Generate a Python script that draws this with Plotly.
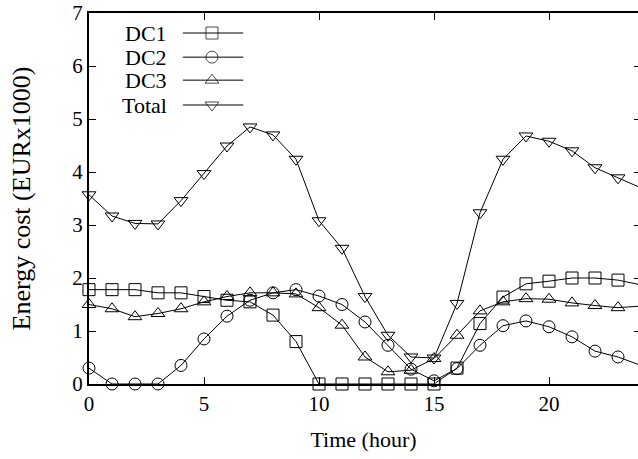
import plotly.graph_objects as go

hours = list(range(25))
dc1 = [1.78, 1.78, 1.78, 1.72, 1.72, 1.65, 1.58, 1.55, 1.30, 0.80, 0, 0, 0, 0, 0, 0,
       0.30, 1.14, 1.64, 1.89, 1.94, 2.00, 2.00, 1.96, 1.87]
dc2 = [0.30, 0, 0, 0, 0.35, 0.85, 1.28, 1.58, 1.72, 1.78, 1.66, 1.50, 1.17, 0.73, 0.28, 0.06,
       0.29, 0.73, 1.10, 1.19, 1.08, 0.89, 0.62, 0.51, 0.35]
dc3 = [1.50, 1.42, 1.27, 1.33, 1.42, 1.55, 1.65, 1.72, 1.72, 1.70, 1.44, 1.11, 0.51, 0.23, 0.26, 0.48,
       0.92, 1.38, 1.55, 1.61, 1.60, 1.53, 1.48, 1.44, 1.47]
total = [3.57, 3.17, 3.03, 3.02, 3.46, 3.97, 4.49, 4.85, 4.70, 4.24, 3.08, 2.56, 1.65, 0.92, 0.51, 0.49,
         1.52, 3.23, 4.24, 4.68, 4.58, 4.40, 4.08, 3.89, 3.70]

names = ["DC1", "DC2", "DC3", "Total"]
series = [dc1, dc2, dc3, total]
symbols = ["square-open", "circle-open", "triangle-up-open", "triangle-down-open"]
sizes = [12, 12, 12, 12]

W, H = 638, 459
ML, MT, MB = 89, 13, 75
PX_PER_HOUR = 23
xmax = (W - ML) / PX_PER_HOUR

FONT = "Liberation Serif"

fig = go.Figure()
for name, ys, sym, sz in zip(names, series, symbols, sizes):
    fig.add_trace(go.Scatter(
        x=hours, y=ys, name=name, mode="lines+markers",
        line=dict(color="black", width=1),
        marker=dict(symbol=sym, size=sz, color="black", line=dict(width=1, color="black")),
        cliponaxis=False, showlegend=False,
    ))

# dummy trace to render right-side mirrored ticks
fig.add_trace(go.Scatter(x=[], y=[], xaxis="x", yaxis="y2", showlegend=False, hoverinfo="skip"))

# custom legend (text left of sample), in plot-fraction coordinates
leg_rows = [0.946, 0.881, 0.819, 0.752]
leg_x = [0.171, 0.224, 0.281]
for name, sym, sz, ry in zip(names, symbols, sizes, leg_rows):
    fig.add_trace(go.Scatter(
        x=leg_x, y=[ry] * 3, xaxis="x3", yaxis="y3", mode="lines+markers",
        line=dict(color="black", width=1),
        marker=dict(symbol=sym, size=[0, sz, 0], color="black", line=dict(width=1, color="black")),
        showlegend=False, hoverinfo="skip", cliponaxis=False,
    ))
    fig.add_annotation(x=0.146, y=ry, xref="paper", yref="paper", text=name,
                       showarrow=False, xanchor="right", yanchor="middle",
                       font=dict(family=FONT, size=22, color="black"))

axis_common = dict(showgrid=False, zeroline=False, ticks="inside", ticklen=7,
                   tickcolor="black", tickwidth=1, linecolor="black", linewidth=2,
                   tickfont=dict(family=FONT, size=21, color="black"))

fig.update_layout(
    width=W, height=H,
    margin=dict(l=ML, r=0, t=MT, b=MB),
    paper_bgcolor="white", plot_bgcolor="white",
    showlegend=False,
    xaxis=dict(range=[0, xmax], tickvals=[0, 5, 10, 15, 20], showline=True, mirror="ticks",
               title=dict(text="Time (hour)", font=dict(family=FONT, size=22, color="black"), standoff=16),
               **axis_common),
    yaxis=dict(range=[0, 7], tickvals=list(range(8)), showline=True, mirror=False,
               title=dict(text="Energy cost (EURx1000)", font=dict(family=FONT, size=26, color="black"), standoff=34),
               **axis_common),
    yaxis2=dict(range=[0, 7], overlaying="y", side="right", anchor="x", tickvals=list(range(8)),
                showgrid=False, zeroline=False, ticks="inside", ticklen=4, tickcolor="black",
                showticklabels=False, showline=False),
    xaxis3=dict(range=[0, 1], overlaying="x", anchor="y3", visible=False),
    yaxis3=dict(range=[0, 1], overlaying="y", anchor="x3", visible=False),
)

fig.write_html("out.html")
